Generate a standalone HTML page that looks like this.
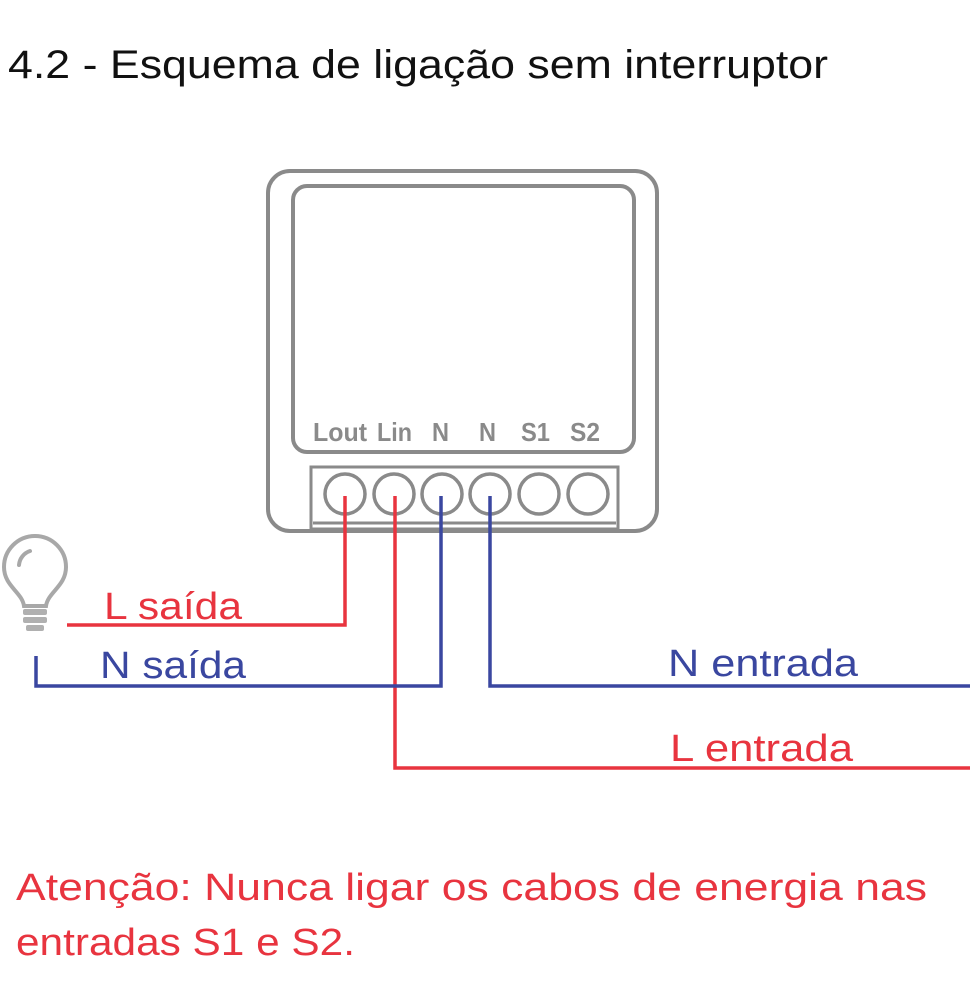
<!DOCTYPE html>
<html><head><meta charset="utf-8"><style>
html,body{margin:0;padding:0;background:#fff;width:970px;height:1000px;overflow:hidden}
svg{display:block}
</style></head><body>
<svg width="970" height="1000" viewBox="0 0 970 1000" xmlns="http://www.w3.org/2000/svg">
<text x="8" y="78" font-family="Liberation Sans, sans-serif" font-size="40" fill="#111" textLength="820" lengthAdjust="spacingAndGlyphs">4.2 - Esquema de ligação sem interruptor</text>
<rect x="268" y="171" width="389" height="360" rx="22" fill="#fff" stroke="#8a8a8a" stroke-width="4"/>
<rect x="293" y="186" width="341" height="266" rx="14" fill="#fff" stroke="#8a8a8a" stroke-width="4"/>
<g font-family="Liberation Sans Narrow, Liberation Sans, sans-serif" font-weight="bold" font-size="26" fill="#8a8a8a" lengthAdjust="spacingAndGlyphs">
<text x="313" y="441" textLength="54" lengthAdjust="spacingAndGlyphs">Lout</text><text x="377" y="441" textLength="35" lengthAdjust="spacingAndGlyphs">Lin</text><text x="432" y="441" textLength="17" lengthAdjust="spacingAndGlyphs">N</text><text x="479" y="441" textLength="17" lengthAdjust="spacingAndGlyphs">N</text><text x="521" y="441" textLength="29" lengthAdjust="spacingAndGlyphs">S1</text><text x="570" y="441" textLength="30" lengthAdjust="spacingAndGlyphs">S2</text>
</g>
<rect x="311" y="467" width="307" height="62" fill="#fff" stroke="#8a8a8a" stroke-width="3"/>
<line x1="313" y1="523" x2="616" y2="523" stroke="#8a8a8a" stroke-width="3"/>
<g fill="#fff" stroke="#8a8a8a" stroke-width="3.5">
<circle cx="345" cy="494" r="20"/><circle cx="394" cy="494" r="20"/><circle cx="442" cy="494" r="20"/><circle cx="490" cy="494" r="20"/><circle cx="539" cy="494" r="20"/><circle cx="588" cy="494" r="20"/>
</g>
<g fill="none" stroke-width="3.5">
<polyline points="345,496 345,625 67,625" stroke="#e8343f"/>
<polyline points="395,496 395,768 970,768" stroke="#e8343f"/>
<polyline points="441,496 441,686 36,686 36,656" stroke="#3a47a0"/>
<polyline points="490,496 490,686 970,686" stroke="#3a47a0"/>
</g>
<g fill="none" stroke="#a8a8a8" stroke-width="4">
<path d="M24,606 C22,592 4,586 4,567 A31,31 0 0 1 66,567 C66,586 48,592 46,606 Z"/>
<path d="M19,565 A16,16 0 0 1 30,551" stroke-width="4" stroke-linecap="round"/>
</g>
<g fill="#b0b0b0"><rect x="23" y="609" width="24" height="6" rx="2"/><rect x="23" y="617" width="24" height="6" rx="2"/><rect x="26" y="625" width="18" height="6" rx="2"/></g>
<g font-family="Liberation Sans, sans-serif" font-size="38">
<text x="104" y="619" fill="#e8343f" textLength="138" lengthAdjust="spacingAndGlyphs">L saída</text>
<text x="100" y="678" fill="#3a47a0" textLength="146" lengthAdjust="spacingAndGlyphs">N saída</text>
<text x="668" y="676" fill="#3a47a0" textLength="190" lengthAdjust="spacingAndGlyphs">N entrada</text>
<text x="670" y="761" fill="#e8343f" textLength="183" lengthAdjust="spacingAndGlyphs">L entrada</text>
<text x="16" y="900" fill="#e8343f" textLength="911" lengthAdjust="spacingAndGlyphs">Atenção: Nunca ligar os cabos de energia nas</text>
<text x="16" y="955" fill="#e8343f" textLength="339" lengthAdjust="spacingAndGlyphs">entradas S1 e S2.</text>
</g>
</svg>
</body></html>
